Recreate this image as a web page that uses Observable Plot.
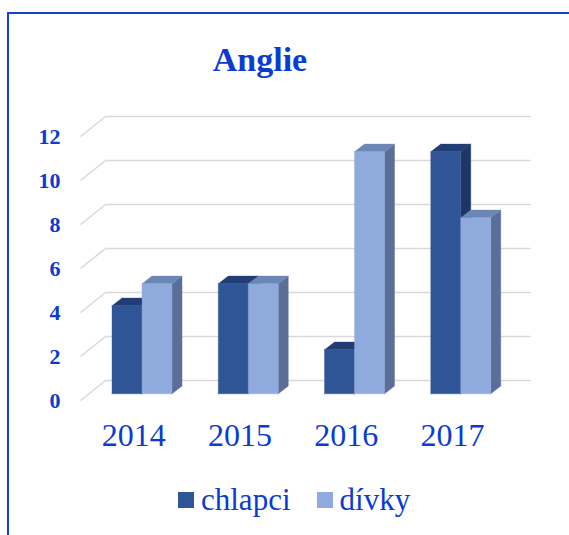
<!DOCTYPE html>
<html>
<head>
<meta charset="utf-8">
<script src="https://cdn.jsdelivr.net/npm/d3@7"></script>
<script src="https://cdn.jsdelivr.net/npm/@observablehq/plot@0.6"></script>
<style>
  html, body { margin: 0; padding: 0; background: #fff; width: 569px; height: 535px; overflow: hidden; }
  body { position: relative; font-family: "Liberation Serif", "Times New Roman", serif; }
  #frame { position: absolute; left: 7px; top: 12px; width: 700px; height: 700px; border: 2px solid #1541d2; z-index: 5; pointer-events: none; }
  #title { position: absolute; left: 160px; width: 200px; top: 43px; text-align: center; font-size: 34px; line-height: 34px; font-weight: bold; color: #0b3bd1; }
  #chart { position: absolute; left: 0; top: 100px; }
  #chart svg, #chart svg text { font-family: "Liberation Serif", "Times New Roman", serif !important; }
  #legend { position: absolute; left: 178px; top: 484px; display: flex; align-items: center; font-size: 31px; line-height: 31px; color: #0b3bd1; }
  .sw { width: 16px; height: 16px; display: inline-block; margin-right: 7px; }
  .item { display: flex; align-items: center; margin-right: 26px; }
</style>
</head>
<body>
<div id="frame"></div>
<div id="title">Anglie</div>
<div id="chart"></div>
<div id="legend"></div>
<script>
// ---- data ----
const years = ["2014", "2015", "2016", "2017"];
const seriesNames = ["chlapci", "dívky"];
const chlapci = [4, 5, 2, 11];
const divky = [5, 5, 11, 8];
const yTicks = [0, 2, 4, 6, 8, 10, 12];

// ---- styling ----
const textColor = "#0b3bd1";
const frontColors = ["#2f5597", "#8faadc"];
const topColors = ["#213d74", "#6c86b6"];
const sideColors = ["#1e3664", "#5b6e98"];

// oblique depth (in data units of the linear scales)
const pxX = 106.25, pxY = 22;
const wallDX = 25 / pxX, wallDY = 20 / pxY;
const barFX = 8.4 / pxX, barFY = 6.7 / pxY;
const barDX = 10 / pxX, barDY = 7.7 / pxY;
const barW = 30 / pxX;

const values = [chlapci, divky];

// gridlines: diagonal on side + back wall line
const gridLinks = [];
yTicks.forEach(t => {
  gridLinks.push({x1: 0, y1: t, x2: wallDX, y2: t + wallDY});
  gridLinks.push({x1: wallDX, y1: t + wallDY, x2: years.length + wallDX, y2: t + wallDY});
});

// bar faces as polygons, in drawing order
const faces = [];
let pid = 0;
years.forEach((yr, i) => {
  values.forEach((arr, s) => {
    const v = arr[i];
    const x1 = i + 0.5 - barW + s * barW + barFX;
    const x2 = x1 + barW;
    const b = barFY;
    const side = [[x2, b], [x2 + barDX, b + barDY], [x2 + barDX, v + b + barDY], [x2, v + b]];
    const top = [[x1, v + b], [x2, v + b], [x2 + barDX, v + b + barDY], [x1 + barDX, v + b + barDY]];
    const front = [[x1, b], [x2, b], [x2, v + b], [x1, v + b]];
    [[side, sideColors[s]], [top, topColors[s]], [front, frontColors[s]]].forEach(([pts, c]) => {
      const id = pid++;
      pts.concat([pts[0]]).forEach(([x, y]) => faces.push({id, x, y, c}));
    });
  });
});

const serif = "'Liberation Serif', 'Times New Roman', serif";

const chart = Plot.plot({
  width: 569,
  height: 360,
  marginLeft: 80,
  marginRight: 64,
  marginTop: 36,
  marginBottom: 60,
  style: {background: "transparent", overflow: "visible", fontFamily: serif},
  x: {domain: [0, years.length], axis: null},
  y: {domain: [0, 12], axis: null},
  color: {type: "identity"},
  marks: [
    Plot.link(gridLinks, {x1: "x1", y1: "y1", x2: "x2", y2: "y2", stroke: "#d9d9d9", strokeWidth: 1.6}),
    Plot.line(faces, {x: "x", y: "y", z: "id", fill: "c", stroke: "c", strokeWidth: 0.4, curve: "linear"}),
    Plot.text(yTicks, {x: 0, y: d => d, text: d => String(d), dx: -20, textAnchor: "end",
      fontSize: 22, fontWeight: "bold", fontFamily: serif, fill: textColor}),
    Plot.text(years, {x: (d, i) => i + 0.5, y: 0, text: d => d, dy: 35,
      fontSize: 32, fontFamily: serif, fill: textColor})
  ]
});
document.getElementById("chart").appendChild(chart);

const legend = document.getElementById("legend");
seriesNames.forEach((name, s) => {
  const item = document.createElement("div");
  item.className = "item";
  const sw = document.createElement("span");
  sw.className = "sw";
  sw.style.background = frontColors[s];
  const t = document.createElement("span");
  t.textContent = name;
  item.appendChild(sw);
  item.appendChild(t);
  legend.appendChild(item);
});
</script>
</body>
</html>
